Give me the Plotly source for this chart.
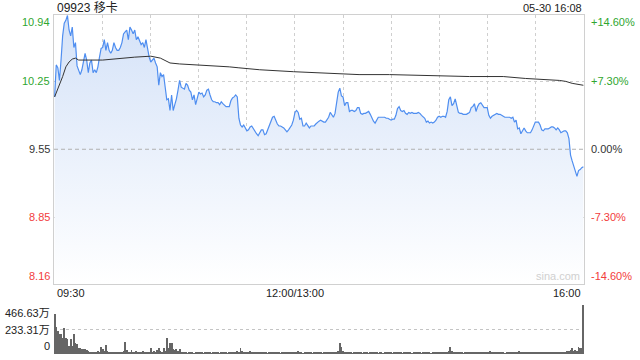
import plotly.graph_objects as go
import pandas as pd

stock_title = "09923 移卡"
stamp = "05-30 16:08"
prev_close = 9.55
price_ticks = [10.94, 10.25, 9.55, 8.85, 8.16]
pct_labels = ["+14.60%", "+7.30%", "0.00%", "-7.30%", "-14.60%"]
vol_ticks = [466.63, 233.31, 0]
vol_labels = ["466.63万", "233.31万", "0"]
time_ticks = ["09:30", "12:00", "16:00"]
time_labels = ["09:30", "12:00/13:00", "16:00"]

# one price per minute, 09:30 ... 12:00 | 13:01 ... 16:00
prices = [
    10.09, 10.42, 10.39, 10.26, 10.47, 10.72, 10.85, 10.88, 10.93, 10.78, 10.72, 10.81, 10.60, 10.65, 10.41,
    10.37, 10.32, 10.37, 10.47, 10.54, 10.47, 10.34, 10.44, 10.47, 10.34, 10.37, 10.34, 10.40, 10.50, 10.59,
    10.60, 10.68, 10.57, 10.65, 10.57, 10.54, 10.57, 10.65, 10.60, 10.57, 10.57, 10.60, 10.65, 10.74, 10.76,
    10.78, 10.68, 10.81, 10.78, 10.74, 10.78, 10.68, 10.71, 10.66, 10.63, 10.65, 10.60, 10.68, 10.58, 10.50,
    10.45, 10.47, 10.49, 10.44, 10.40, 10.21, 10.34, 10.30, 10.32, 10.19, 10.06, 10.07, 9.95, 10.11, 9.95,
    10.01, 10.07, 10.16, 10.26, 10.19, 10.18, 10.17, 10.23, 10.21, 10.16, 10.14, 10.06, 10.11, 10.01, 10.08,
    10.14, 10.12, 10.13, 10.09, 10.11, 10.16, 10.17, 10.11, 10.06, 10.04, 10.04, 10.03, 10.03, 10.01, 10.04,
    10.02, 10.00, 9.99, 9.99, 9.99, 10.05, 10.08, 10.09, 10.11, 10.09, 9.87, 9.80, 9.78, 9.80, 9.77,
    9.74, 9.75, 9.78, 9.79, 9.76, 9.73, 9.71, 9.69, 9.72, 9.75, 9.75, 9.70, 9.71, 9.75, 9.79,
    9.83, 9.88, 9.89, 9.85, 9.81, 9.79, 9.79, 9.78, 9.77, 9.75, 9.73, 9.75, 9.77, 9.80, 9.85,
    9.93, 9.95, 9.93, 9.86, 9.87, 9.79, 9.79, 9.82, 9.80, 9.77, 9.79, 9.79, 9.79, 9.81, 9.83,
    9.84, 9.85, 9.84, 9.83, 9.83, 9.85, 9.88, 9.93, 9.90, 9.88, 9.92, 10.04, 10.14, 10.18, 10.10,
    10.09, 10.00, 10.03, 10.03, 9.94, 9.95, 9.95, 9.94, 9.95, 9.98, 9.98, 9.92, 9.91, 9.92, 9.92,
    9.93, 9.94, 9.91, 9.87, 9.84, 9.82, 9.86, 9.88, 9.88, 9.88, 9.88, 9.88, 9.87, 9.87, 9.86,
    9.85, 9.86, 9.86, 9.90, 9.97, 9.99, 9.95, 9.94, 9.95, 9.92, 9.91, 9.93, 9.92, 9.93, 9.92,
    9.92, 9.92, 9.93, 9.92, 9.90, 9.88, 9.87, 9.83, 9.84, 9.82, 9.83, 9.82, 9.83, 9.85, 9.88,
    9.89, 9.88, 9.89, 9.89, 9.88, 9.94, 10.06, 10.09, 10.00, 10.02, 10.07, 9.99, 9.93, 9.92, 9.92,
    9.91, 9.91, 9.91, 9.92, 9.93, 9.98, 9.99, 10.02, 9.94, 9.99, 10.02, 10.03, 10.00, 9.98, 9.98,
    9.98, 9.90, 9.87, 9.89, 9.90, 9.91, 9.92, 9.91, 9.91, 9.90, 9.89, 9.88, 9.88, 9.88, 9.88,
    9.87, 9.88, 9.83, 9.85, 9.76, 9.77, 9.71, 9.74, 9.77, 9.74, 9.72, 9.72, 9.72, 9.75, 9.80,
    9.83, 9.83, 9.83, 9.80, 9.75, 9.74, 9.76, 9.76, 9.76, 9.77, 9.78, 9.78, 9.77, 9.75, 9.77,
    9.75, 9.72, 9.73, 9.74, 9.74, 9.72, 9.66, 9.49, 9.43, 9.38, 9.31, 9.27, 9.33, 9.34, 9.36,
    9.37,
]

avg_times = ["09:30", "09:33", "09:35", "09:37", "09:39", "09:41", "09:43", "09:45", "10:00", "10:20",
             "10:30", "10:36", "10:42", "10:48", "11:01", "11:19", "11:25", "11:38", "11:59", "13:30",
             "13:40", "13:59", "14:24", "14:49", "15:10", "15:24", "15:45", "15:49", "15:53", "16:00"]
avg_prices = [10.09, 10.21, 10.30, 10.40, 10.45, 10.48, 10.49, 10.47, 10.47, 10.50,
              10.51, 10.49, 10.44, 10.43, 10.42, 10.40, 10.39, 10.37, 10.35, 10.33,
              10.32, 10.32, 10.31, 10.30, 10.30, 10.28, 10.26, 10.25, 10.23, 10.21]

# volume per minute, in 万 shares
volumes = [
    378, 257, 219, 187, 194, 155, 251, 155, 146, 76, 140, 76, 187, 108, 92,
    60, 60, 51, 44, 44, 35, 29, 19, 10, 19, 10, 19, 29, 19, 70,
    44, 29, 83, 29, 19, 15, 10, 19, 10, 12, 15, 10, 19, 29, 117,
    35, 22, 15, 38, 19, 12, 29, 15, 10, 19, 25, 12, 15, 10, 19,
    54, 22, 29, 19, 38, 54, 25, 19, 54, 29, 149, 60, 102, 108, 44,
    38, 44, 29, 44, 19, 10, 12, 15, 8, 10, 19, 12, 8, 10, 15,
    19, 10, 12, 8, 15, 10, 12, 19, 8, 10, 12, 15, 10, 8, 12,
    10, 19, 12, 8, 15, 12, 10, 19, 12, 29, 19, 54, 29, 19, 15,
    22, 12, 29, 19, 15, 12, 19, 10, 12, 15, 19, 10, 12, 8, 15,
    12, 10, 19, 12, 15, 10, 8, 12, 10, 15, 12, 10, 19, 12, 15,
    10, 12, 32, 12, 10, 8, 12, 10, 15, 12, 10, 8, 12, 10, 15,
    12, 10, 8, 12, 15, 10, 12, 19, 15, 12, 10, 19, 29, 102, 70,
    29, 19, 12, 15, 10, 12, 8, 10, 12, 15, 10, 12, 8, 10, 12,
    10, 8, 12, 10, 15, 12, 10, 8, 12, 10, 8, 12, 10, 15, 12,
    10, 8, 12, 15, 19, 12, 10, 8, 12, 10, 15, 12, 10, 8, 12,
    10, 12, 15, 10, 8, 12, 10, 15, 12, 10, 8, 12, 10, 15, 12,
    10, 12, 15, 19, 12, 19, 29, 70, 32, 19, 15, 12, 10, 12, 10,
    8, 12, 10, 15, 12, 10, 12, 19, 15, 12, 10, 12, 15, 10, 12,
    15, 19, 29, 15, 12, 10, 12, 15, 10, 12, 10, 8, 12, 10, 15,
    12, 19, 15, 22, 19, 29, 19, 15, 12, 19, 15, 12, 10, 12, 15,
    12, 19, 15, 12, 10, 15, 12, 19, 15, 12, 10, 12, 15, 19, 12,
    15, 19, 12, 22, 19, 29, 25, 35, 54, 29, 38, 25, 67, 54, 60,
    466.63,
]

# trading-session minute axis (lunch break collapsed)
am = pd.date_range("2000-01-01 09:30", "2000-01-01 12:00", freq="min")
pm = pd.date_range("2000-01-01 13:01", "2000-01-01 16:00", freq="min")
session = [t.strftime("%H:%M") for t in am] + [t.strftime("%H:%M") for t in pm]
pos = {t: i for i, t in enumerate(session)}
pos["13:00"] = pos["12:00"]

x_price = list(range(len(prices)))
x_vol = list(range(len(volumes)))
x_avg = [pos[t] for t in avg_times]

UP = "#2fa62f"
DOWN = "#f23c3c"
FLAT = "#333333"
FONT = "Liberation Sans, Arial, Noto Sans CJK SC, sans-serif"

fig = go.Figure()
fig.add_trace(go.Scatter(
    x=x_price, y=prices, mode="lines",
    line=dict(color="#4f8ef0", width=1.2),
    fill="tozeroy",
    fillgradient=dict(type="vertical",
                      colorscale=[[0, "rgba(255,255,255,1)"], [1, "rgba(212,226,248,1)"]],
                      start=price_ticks[-1], stop=price_ticks[0]),
    hoverinfo="skip", showlegend=False))
fig.add_trace(go.Scatter(
    x=x_avg, y=avg_prices, mode="lines",
    line=dict(color="#333333", width=1),
    hoverinfo="skip", showlegend=False))
fig.add_trace(go.Bar(
    x=x_vol, y=volumes, xaxis="x2", yaxis="y2",
    marker=dict(color="#666666", line=dict(width=0)), width=0.55,
    hoverinfo="skip", showlegend=False))

xl, xr = 54 / 640, 584 / 640
n_last = len(session) - 1
grid_x = list(range(0, n_last + 1, 30))

fig.update_layout(
    width=640, height=360,
    margin=dict(l=0, r=0, t=0, b=0),
    paper_bgcolor="white", plot_bgcolor="rgba(0,0,0,0)",
    font=dict(family=FONT, size=11, color=FLAT),
    xaxis=dict(domain=[xl, xr], range=[-0.4, n_last + 0.4], tickvals=grid_x,
               showticklabels=False, ticks="", showgrid=True, gridcolor="#cfcfcf",
               griddash="dot", gridwidth=1, showline=True, mirror=True,
               linecolor="#d0d0d0", linewidth=1, zeroline=False, fixedrange=True),
    yaxis=dict(domain=[(360 - 284) / 360, (360 - 14.5) / 360],
               range=[price_ticks[-1], price_ticks[0]], tickvals=[price_ticks[1], price_ticks[3]],
               showticklabels=False, ticks="", showgrid=True, gridcolor="#cfcfcf",
               griddash="dot", showline=True, mirror=True, linecolor="#d0d0d0",
               zeroline=False),
    xaxis2=dict(domain=[xl, xr], range=[-0.4, n_last + 0.4], anchor="y2",
                showticklabels=False, ticks="", showgrid=False, zeroline=False,
                showline=False),
    yaxis2=dict(domain=[6 / 360, 55 / 360], range=[0, vol_ticks[0]], anchor="x2",
                tickvals=[vol_ticks[1], vol_ticks[0]], showticklabels=False, ticks="",
                showgrid=True, gridcolor="#c4c4c4", griddash="dot", zeroline=False,
                showline=False),
    bargap=0,
)

# previous-close reference line
fig.add_shape(type="line", xref="x", yref="y", x0=-0.4, x1=n_last + 0.4,
              y0=prev_close, y1=prev_close,
              line=dict(color="#b0b0b0", width=1, dash="4px,3px"))

ann = []
ann.append(dict(text=stock_title, x=55 / 640, y=(360 - 8) / 360, xref="paper", yref="paper",
                xanchor="left", yanchor="middle", showarrow=False,
                font=dict(size=12, color="#222222", family=FONT)))
ann.append(dict(text=stamp, x=xr, y=(360 - 8) / 360, xref="paper", yref="paper",
                xanchor="right", yanchor="middle", showarrow=False,
                font=dict(size=11, color="#222222")))

colors = [UP, UP, FLAT, DOWN, DOWN]
for i, (p, pct, c) in enumerate(zip(price_ticks, pct_labels, colors)):
    yanchor = "top" if i == 0 else ("bottom" if i == len(price_ticks) - 1 else "middle")
    ann.append(dict(text=f"{p:.2f}", x=52 / 640, y=p, xref="paper", yref="y",
                    xanchor="right", yanchor=yanchor, showarrow=False,
                    font=dict(size=11, color=c)))
    ann.append(dict(text=pct, x=589 / 640, y=p, xref="paper", yref="y",
                    xanchor="left", yanchor=yanchor, showarrow=False,
                    font=dict(size=11, color=c)))

for t, lab in zip(time_ticks, time_labels):
    xa = "left" if t == time_ticks[0] else ("right" if t == time_ticks[-1] else "center")
    ann.append(dict(text=lab, x=pos[t], y=(360 - 293) / 360, xref="x", yref="paper",
                    xanchor=xa, yanchor="middle", showarrow=False,
                    font=dict(size=11, color="#222222")))

for i, (v, lab) in enumerate(zip(vol_ticks, vol_labels)):
    yanchor = "top" if i == 0 else ("bottom" if i == len(vol_ticks) - 1 else "middle")
    ann.append(dict(text=lab, x=52 / 640, y=v, xref="paper", yref="y2",
                    xanchor="right", yanchor=yanchor, showarrow=False,
                    font=dict(size=11, color="#222222")))

ann.append(dict(text="sina.com", x=582 / 640, y=price_ticks[-1], xref="paper", yref="y",
                xanchor="right", yanchor="bottom", showarrow=False,
                font=dict(size=11, color="#d0d0d0")))

fig.update_layout(annotations=ann)
fig.write_html("out.html")
